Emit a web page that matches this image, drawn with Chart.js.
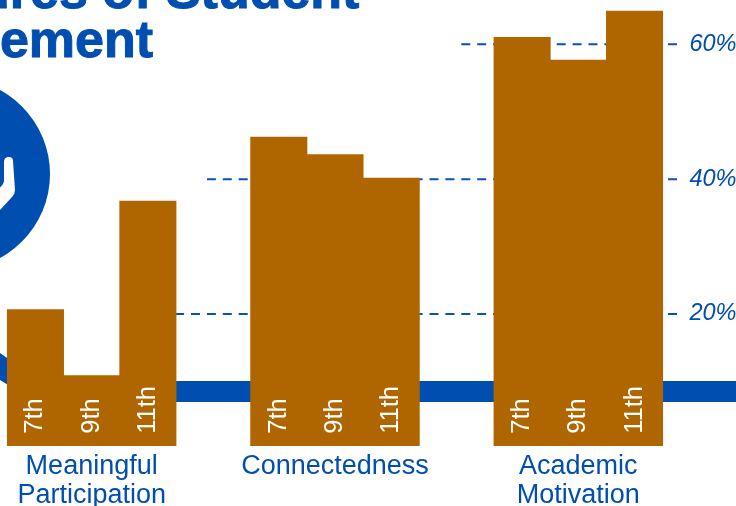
<!DOCTYPE html>
<html>
<head>
<meta charset="utf-8">
<title>Student Engagement</title>
<script src="https://cdn.jsdelivr.net/npm/chart.js@4"></script>
<style>
	html, body { margin: 0; padding: 0; background: #fff; }
	#page { position: relative; width: 736px; height: 506px; overflow: hidden; }
	#art { position: absolute; left: 0; top: 0; }
	.title {
		position: absolute; white-space: nowrap;
		font: bold 52px/48px "Liberation Sans", Arial, sans-serif;
		color: #004fb0; -webkit-text-stroke: 1px #004fb0;
	}
	#chart { position: absolute; left: -40px; top: 0; }
</style>
</head>
<body>
<div id="page">
	<svg id="art" width="736" height="506">
		<circle cx="-45.6" cy="174" r="95.6" fill="#004eaf"/>
		<path d="M4 162 Q4 157 9 157 Q13 157 13 161 L15 190 Q15 194 12 197 L0 210 L-4 190 Q4 186 4 180 Z" fill="#fff"/>
		<path d="M-10 346 L40 381 L736 381 L736 402 L36 402 L-10 374 Z" fill="#004eaf"/>
	</svg>
	<div class="title" style="left:-152px;top:-34px">Measures of Student</div>
	<div class="title" style="left:-159px;top:15px">Engagement</div>
	<canvas id="chart" width="780" height="506"></canvas>
</div>
<script>
const categories = [['Meaningful', 'Participation'], 'Connectedness', ['Academic', 'Motivation']]
const grades = ['7th', '9th', '11th']
const grade7 = [20.7, 46.3, 61.1]
const grade9 = [10.9, 43.7, 57.7]
const grade11 = [36.8, 40.2, 65.0]
const percentTicks = [20, 40, 60]

const blue = '#004eaf'
const brown = '#af6600'
const font = '"Liberation Sans", Arial, sans-serif'

// dashed guides run from the right, each one starting at its own x on the left
const guideStart = { 20: 160, 40: 247, 60: 497 }
const guideEnd = 717

const guides = {
	id: 'guides',
	beforeDatasetsDraw(chart) {
		const ctx = chart.ctx
		const y = chart.scales.y
		ctx.save()
		ctx.strokeStyle = '#0a52b4'
		ctx.lineWidth = 2
		ctx.setLineDash([9, 6.9])
		percentTicks.forEach((t) => {
			const py = y.getPixelForValue(t)
			ctx.beginPath()
			ctx.moveTo(guideEnd, py)
			ctx.lineTo(guideStart[t], py)
			ctx.stroke()
		})
		ctx.restore()
	},
}

const gradeLabels = {
	id: 'gradeLabels',
	afterDatasetsDraw(chart) {
		const ctx = chart.ctx
		ctx.save()
		ctx.fillStyle = '#fff'
		ctx.font = '25.5px ' + font
		ctx.textAlign = 'left'
		ctx.textBaseline = 'middle'
		chart.data.datasets.forEach((ds, i) => {
			chart.getDatasetMeta(i).data.forEach((bar) => {
				ctx.save()
				ctx.translate(bar.x, bar.base - 15)
				ctx.rotate(-Math.PI / 2)
				ctx.fillText(ds.label, 0, 0)
				ctx.restore()
			})
		})
		ctx.restore()
	},
}

new Chart(document.getElementById('chart').getContext('2d'), {
	type: 'bar',
	data: {
		labels: categories,
		datasets: [
			{ label: grades[0], data: grade7, backgroundColor: brown },
			{ label: grades[1], data: grade9, backgroundColor: brown },
			{ label: grades[2], data: grade11, backgroundColor: brown },
		],
	},
	options: {
		responsive: false,
		animation: false,
		// bars overlap a hair so no seams show between them
		datasets: { bar: { barPercentage: 1.015, categoryPercentage: 0.693 } },
		layout: { padding: { left: 10, top: 5 } },
		plugins: { legend: { display: false }, tooltip: { enabled: false } },
		scales: {
			x: {
				grid: { display: false, drawTicks: false },
				border: { display: false },
				afterFit: (scale) => { scale.height = 60 },
				ticks: {
					color: blue,
					padding: 6,
					autoSkip: false,
					maxRotation: 0,
					font: { family: font, size: 27, lineHeight: 1.07 },
				},
			},
			y: {
				position: 'right',
				// the picture's baseline sits just above the scale's zero
				min: 0.4,
				max: 65.84,
				grid: { display: false, drawTicks: false },
				border: { display: false },
				afterBuildTicks: (scale) => { scale.ticks = percentTicks.map((value) => ({ value })) },
				afterFit: (scale) => {
					scale.width = 40
					// mirrored labels would otherwise add their padding above and below the plot
					scale.paddingTop = 0
					scale.paddingBottom = 0
				},
				ticks: {
					color: blue,
					mirror: true,
					padding: 36.5,
					callback: (v) => v + '%',
					font: { family: font, size: 23.5, style: 'italic' },
				},
			},
		},
	},
	plugins: [guides, gradeLabels],
})
</script>
</body>
</html>
